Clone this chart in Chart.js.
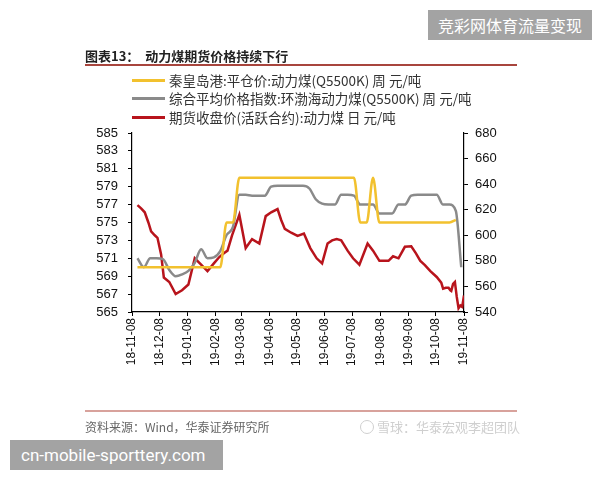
<!DOCTYPE html>
<html>
<head>
<meta charset="utf-8">
<script src="https://cdn.jsdelivr.net/npm/chart.js@4.4.1/dist/chart.umd.min.js"></script>
<style>
  body { margin: 0; background: #fff; }
  #wrap { position: relative; width: 600px; height: 480px; overflow: hidden; font-family: "Noto Sans CJK SC", "Liberation Sans", sans-serif; }
  #c { position: absolute; left: 0; top: 0; }
  .abs { position: absolute; white-space: nowrap; }
  .badge { background: #a3a3a3; color: #fff; }
  .sw { position: absolute; width: 33px; height: 3px; }
  .lg { position: absolute; font-size: 13.5px; color: #333; line-height: 16px; }
</style>
</head>
<body>
<div id="wrap">
  <canvas id="c" width="600" height="480"></canvas>

  <div class="abs badge" style="left:428px;top:10px;width:164px;height:30px;line-height:30px;font-size:16px;text-align:center;">竞彩网体育流量变现</div>

  <div class="abs" style="left:85px;top:46px;font-size:13px;font-weight:bold;color:#222;">图表13：&nbsp;&nbsp;动力煤期货价格持续下行</div>
  <div class="abs" style="left:85px;top:64px;width:432px;height:1.5px;background:#a8453d;"></div>

  <div class="sw" style="left:132px;top:79px;background:#f2c12e;"></div>
  <div class="lg" style="left:169px;top:72px;">秦皇岛港:平仓价:动力煤(Q5500K) 周 元/吨</div>
  <div class="sw" style="left:132px;top:97px;background:#8a8a8a;"></div>
  <div class="lg" style="left:169px;top:90px;">综合平均价格指数:环渤海动力煤(Q5500K) 周 元/吨</div>
  <div class="sw" style="left:132px;top:116px;background:#b8141c;"></div>
  <div class="lg" style="left:169px;top:109px;">期货收盘价(活跃合约):动力煤 日 元/吨</div>

  <div class="abs" style="left:85px;top:410px;width:432px;height:1.5px;background:#d8a29c;"></div>
  <div class="abs" style="left:85px;top:418px;font-size:12px;color:#666;">资料来源：Wind，华泰证券研究所</div>
  <div class="abs" style="left:360px;top:417px;font-size:13px;color:#cfcfcf;">
    <span style="display:inline-block;width:12px;height:12px;border:1.5px solid #cfcfcf;border-radius:50%;vertical-align:-2px;"></span> 雪球：华泰宏观李超团队</div>

  <div class="abs badge" style="left:10px;top:440px;width:213px;height:30px;line-height:30px;font-size:17px;font-family:Roboto,'Liberation Sans',sans-serif;padding-left:11px;box-sizing:border-box;">cn-mobile-sporttery.com</div>
</div>

<script>
// x axis: days since 2018-11-08
const tickDays = [0, 30, 61, 92, 120, 151, 181, 212, 242, 273, 304, 334, 365];
const tickLabels = ['18-11-08', '18-12-08', '19-01-08', '19-02-08', '19-03-08', '19-04-08', '19-05-08',
                    '19-06-08', '19-07-08', '19-08-08', '19-09-08', '19-10-08', '19-11-08'];

// weekly series (left axis)
const weekDays = [6, 13, 20, 27, 34, 41, 48, 55, 62, 69, 76, 83, 90, 97, 104, 111, 118, 125, 132, 139,
                  146, 153, 160, 167, 174, 181, 188, 195, 202, 209, 216, 223, 230, 237, 244, 251, 258, 265,
                  272, 279, 286, 293, 300, 307, 314, 321, 328, 335, 342, 349, 356];
const qhdPrice = [570, 570, 570, 570, 570, 570, 570, 570, 570, 570, 570, 570, 570, 570, 575, 575, 580, 580, 580, 580,
                  580, 580, 580, 580, 580, 580, 580, 580, 580, 580, 580, 580, 580, 580, 580, 575, 575, 580,
                  575, 575, 575, 575, 575, 575, 575, 575, 575, 575, 575, 575, 575.3];
const bohaiIndexDays = weekDays.concat([362]);
const bohaiIndex = [571, 570, 571, 571, 570.9, 569.7, 569, 569.2, 569.6, 570.5, 572, 571, 571.1, 571.8, 573.6, 574.5, 578.1, 578.1, 578, 578,
                    578, 579, 579.1, 579.1, 579.1, 579.1, 579.1, 578.8, 577.6, 577.1, 577, 577, 578.1, 578.1, 578, 577, 577, 577,
                    576, 576, 576, 577, 577, 578, 578.1, 578.1, 578.1, 578.1, 577, 577, 576.3, 570];

// daily futures close (right axis)
const futDays = [6, 10, 14, 18, 21, 25, 28, 32, 35, 41, 48, 55, 62, 69, 76, 83, 90, 96, 101, 105, 110, 114, 118,
                 125, 132, 140, 147, 153, 160, 164, 168, 175, 182, 189, 196, 203, 209, 215, 220, 225, 230, 237,
                 243, 250, 259, 265, 272, 277, 282, 287, 293, 300, 307, 312, 317, 322, 328, 335, 340, 342, 345,
                 348, 350, 351, 353, 355, 357, 359, 361, 363, 365];
const futClose = [623.6, 621, 618, 610, 603, 600, 598, 585, 567, 563.5, 554, 557, 561.5, 582, 577, 572, 578, 583, 586, 588, 600, 608, 616,
                  590, 597, 593.6, 615, 618, 620.5, 612, 605, 602, 599.5, 601.4, 590, 582, 578, 593.6, 596, 597, 596, 588,
                  582, 577, 593.6, 588, 580, 580, 580, 583.6, 582, 591, 591.4, 586, 580, 576.6, 572, 567.4, 563, 558.3, 559,
                  559, 557, 556.5, 562, 563.5, 552, 543, 545, 544, 553];

const pts = (xs, ys) => xs.map((x, i) => ({ x: x, y: ys[i] }));

const tickFont = { family: "'Liberation Sans', Arial, sans-serif", size: 13 };

new Chart(document.getElementById('c'), {
    type: 'line',
    data: {
        datasets: [{
            label: '秦皇岛港:平仓价:动力煤(Q5500K) 周 元/吨',
            data: pts(weekDays, qhdPrice),
            borderColor: '#f2c12e',
            borderWidth: 2.5,
            pointRadius: 0,
            cubicInterpolationMode: 'monotone',
            yAxisID: 'y'
        }, {
            label: '综合平均价格指数:环渤海动力煤(Q5500K) 周 元/吨',
            data: pts(bohaiIndexDays, bohaiIndex),
            borderColor: '#8a8a8a',
            borderWidth: 2.5,
            pointRadius: 0,
            cubicInterpolationMode: 'monotone',
            yAxisID: 'y'
        }, {
            label: '期货收盘价(活跃合约):动力煤 日 元/吨',
            data: pts(futDays, futClose),
            borderColor: '#b8141c',
            borderWidth: 2.5,
            pointRadius: 0,
            tension: 0,
            yAxisID: 'y1'
        }]
    },
    options: {
        responsive: false,
        animation: false,
        layout: { padding: { left: 82, right: 86, top: 133, bottom: 98 } },
        plugins: { legend: { display: false }, tooltip: { enabled: false } },
        scales: {
            x: {
                type: 'linear',
                min: 0,
                max: 365,
                afterBuildTicks: scale => { scale.ticks = tickDays.map(v => ({ value: v })); },
                afterFit: scale => { scale.height = 70; },
                ticks: {
                    autoSkip: false,
                    maxRotation: 90,
                    minRotation: 90,
                    padding: 2,
                    color: '#111',
                    font: { family: "'Liberation Sans', Arial, sans-serif", size: 12 },
                    callback: (v, i) => tickLabels[i]
                },
                grid: { drawOnChartArea: false, tickLength: 4, color: '#000' },
                border: { color: '#000', width: 1.2 }
            },
            y: {
                position: 'left',
                min: 565,
                max: 585,
                afterFit: scale => { scale.width = 50; },
                ticks: { stepSize: 2, autoSkip: false, padding: 10, color: '#111', font: tickFont },
                grid: { drawOnChartArea: false, tickLength: 4, color: '#000' },
                border: { color: '#000', width: 1.2 }
            },
            y1: {
                position: 'right',
                min: 540,
                max: 680,
                afterFit: scale => { scale.width = 50; },
                ticks: { stepSize: 20, autoSkip: false, padding: 7, color: '#111', font: tickFont },
                grid: { drawOnChartArea: false, tickLength: 4, color: '#000' },
                border: { color: '#000', width: 1.2 }
            }
        }
    }
});
</script>
</body>
</html>
